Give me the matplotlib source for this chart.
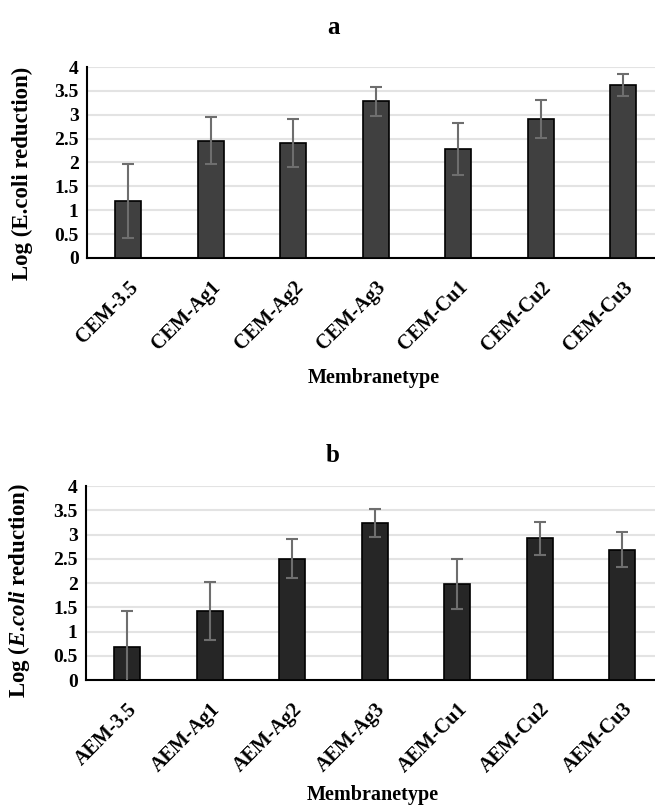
import matplotlib.pyplot as plt
import numpy as np

# data
cem_names = ['CEM-3.5', 'CEM-Ag1', 'CEM-Ag2', 'CEM-Ag3', 'CEM-Cu1', 'CEM-Cu2', 'CEM-Cu3']
cem_vals = [1.19, 2.46, 2.41, 3.28, 2.28, 2.91, 3.63]
cem_err = [0.77, 0.49, 0.50, 0.31, 0.54, 0.39, 0.23]

aem_names = ['AEM-3.5', 'AEM-Ag1', 'AEM-Ag2', 'AEM-Ag3', 'AEM-Cu1', 'AEM-Cu2', 'AEM-Cu3']
aem_vals = [0.68, 1.43, 2.50, 3.23, 1.98, 2.92, 2.69]
aem_err = [0.75, 0.60, 0.40, 0.29, 0.52, 0.34, 0.36]

yticks = [0, 0.5, 1, 1.5, 2, 2.5, 3, 3.5, 4]
ytick_labels = ['0', '0.5', '1', '1.5', '2', '2.5', '3', '3.5', '4']

plt.rcParams['font.family'] = 'Liberation Serif'
plt.rcParams['font.weight'] = 'bold'
plt.rcParams['mathtext.fontset'] = 'custom'
plt.rcParams['mathtext.bfit'] = 'Liberation Serif:italic:bold'
plt.rcParams['mathtext.rm'] = 'Liberation Serif:bold'

W, H = 655, 805
fig = plt.figure(figsize=(W / 100, H / 100), dpi=100)


def panel(rect, names, vals, err, color, ylab, title, title_y, ylab_y, xlab_y):
    ax = fig.add_axes(rect)
    x = np.arange(len(names))
    ax.bar(x, vals, width=0.32, color=color, edgecolor='black', linewidth=1.2, zorder=3)
    ax.errorbar(x, vals, yerr=err, fmt='none', ecolor='#6e6e6e', elinewidth=1.5,
                capsize=4, capthick=1.5, zorder=4)
    ax.set_xlim(-0.5, len(names) - 0.5)
    ax.set_ylim(0, 4)
    ax.set_yticks(yticks)
    ax.set_yticklabels(ytick_labels, fontsize=14)
    ax.set_xticks(x)
    ax.set_xticklabels(names, rotation=45, ha='right', rotation_mode='anchor', fontsize=14.5)
    ax.tick_params(length=0, pad=6)
    ax.tick_params(axis='x', pad=14)
    ax.grid(axis='y', color='#e3e3e3', linewidth=1.5, zorder=0)
    ax.set_axisbelow(True)
    for s in ['top', 'right']:
        ax.spines[s].set_visible(False)
    ax.spines['left'].set_linewidth(1.5)
    ax.spines['bottom'].set_linewidth(1.5)
    ax.set_ylabel(ylab, fontsize=16.5, fontweight='bold')
    ax.yaxis.set_label_coords(-0.094, ylab_y)
    ax.set_xlabel('Membranetype', fontsize=14.5, fontweight='bold')
    ax.xaxis.set_label_coords(0.497, xlab_y)
    fig.text(333 / W, title_y, title, fontsize=18, fontweight='bold', ha='center', va='center')
    return ax


ax1 = panel([87 / W, (H - 258) / H, 577.5 / W, 191 / H], cem_names, cem_vals, cem_err,
            '#404040', 'Log (E.coli reduction)', 'a', 1 - 27 / H, 0.445, -0.575)
ax2 = panel([86 / W, (H - 680) / H, 577.5 / W, 194 / H], aem_names, aem_vals, aem_err,
            '#262626', r'Log ($\mathbfit{E}$.$\mathbfit{coli}$ reduction)', 'b', 1 - 455 / H,
            0.46, -0.54)

fig.savefig('out.png', dpi=100)
